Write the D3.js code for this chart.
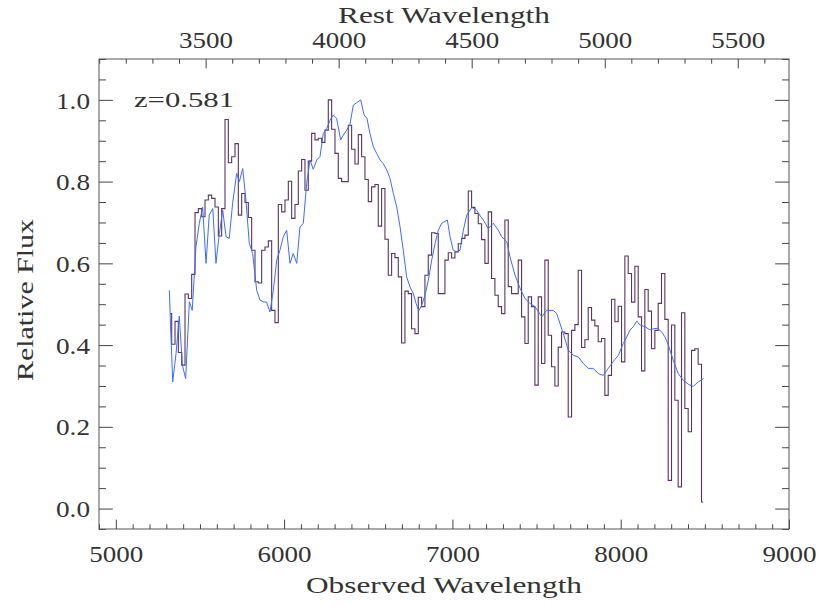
<!DOCTYPE html>
<html><head><meta charset="utf-8">
<script src="https://cdn.jsdelivr.net/npm/d3@7"></script>
<style>
body{margin:0;background:#fff;}
svg text{font-family:"Liberation Serif","DejaVu Serif",serif;fill:#333;}
</style></head><body>
<svg id="c" width="830" height="608"></svg>
<script>
// ---- data ----
const redshift = 0.581;
const fluxStart = 5322;   // first bin centre (observed Å)
const fluxStep = 19.8;    // bin width (Å)
const flux = [
0.477,0.402,0.458,0.382,0.351,0.525,0.514,0.573,0.724,0.734,
0.714,0.755,0.767,0.759,0.738,0.667,0.734,0.952,0.846,0.861,
0.893,0.718,0.771,0.749,0.712,0.632,0.555,0.552,0.632,0.640,
0.655,0.485,0.455,0.744,0.726,0.755,0.801,0.710,0.744,0.826,
0.854,0.779,0.850,0.918,0.902,0.906,0.896,0.926,1.000,0.928,
0.869,0.808,0.800,0.800,0.938,0.879,0.843,0.915,0.861,0.805,
0.751,0.787,0.793,0.691,0.783,0.659,0.571,0.624,0.614,0.567,
0.405,0.532,0.526,0.440,0.428,0.517,0.494,0.571,0.620,0.675,
0.673,0.526,0.526,0.608,0.626,0.613,0.628,0.648,0.661,0.669,
0.777,0.737,0.722,0.697,0.658,0.600,0.726,0.563,0.522,0.494,
0.477,0.706,0.543,0.526,0.526,0.608,0.469,0.404,0.518,0.494,
0.302,0.518,0.355,0.608,0.424,0.347,0.300,0.395,0.432,0.428,
0.224,0.436,0.450,0.583,0.394,0.413,0.492,0.461,0.447,0.408,
0.416,0.277,0.326,0.512,0.457,0.495,0.359,0.618,0.575,0.505,
0.593,0.469,0.337,0.536,0.483,0.391,0.436,0.502,0.575,0.463,
0.069,0.449,0.265,0.053,0.479,0.245,0.188,0.387,0.391,0.353,
0.016];
const modelWave = [
5318,5325,5338,5358,5377,5396,5415,5437,5454,5476,5496,5516,5536,5555,5576,5595,5615,5635,5655,5674,
5694,5718,5734,5754,5773,5793,5813,5837,5857,5876,5896,5916,5936,5956,5975,5995,6015,6035,6054,6075,
6094,6114,6134,6154,6173,6194,6213,6233,6253,6273,6292,6312,6336,6352,6372,6391,6411,6431,6455,6475,
6492,6510,6530,6550,6570,6589,6610,6629,6649,6669,6689,6708,6728,6748,6768,6784,6800,6818,6837,6857,
6877,6897,6916,6936,6970,6986,7005,7025,7045,7065,7085,7115,7144,7168,7184,7213,7243,7273,7293,7323,
7342,7372,7402,7431,7461,7491,7531,7560,7599,7620,7659,7689,7718,7748,7778,7807,7837,7867,7897,7926,
7956,7986,8015,8036,8055,8075,8095,8115,8144,8174,8194,8217,8244,8263,8283,8312,8342,8372,8402,8431,
8461,8491];
const modelFlux = [
0.534,0.450,0.310,0.380,0.471,0.350,0.318,0.506,0.485,0.640,0.698,0.738,0.600,0.718,0.734,0.600,0.673,0.730,0.665,0.661,
0.747,0.820,0.800,0.832,0.755,0.649,0.624,0.534,0.510,0.506,0.505,0.481,0.534,0.608,0.632,0.665,0.681,0.600,0.624,0.600,
0.689,0.698,0.796,0.853,0.830,0.853,0.861,0.918,0.930,0.950,0.963,0.955,0.902,0.914,0.926,0.940,0.987,0.993,1.000,0.963,
0.955,0.918,0.885,0.869,0.853,0.844,0.828,0.808,0.771,0.738,0.689,0.632,0.567,0.542,0.526,0.502,0.484,0.498,0.522,0.559,
0.608,0.649,0.681,0.698,0.706,0.665,0.632,0.628,0.632,0.681,0.718,0.737,0.730,0.714,0.706,0.685,0.698,0.681,0.665,0.653,
0.616,0.571,0.539,0.514,0.502,0.494,0.469,0.485,0.485,0.477,0.428,0.387,0.375,0.371,0.355,0.343,0.343,0.330,0.326,0.343,
0.360,0.375,0.404,0.420,0.437,0.445,0.459,0.449,0.445,0.437,0.440,0.441,0.432,0.420,0.400,0.363,0.330,0.314,0.304,0.299,
0.310,0.318];
const obsTickValues = [5000,6000,7000,8000,9000];
const restTickValues = [3500,4000,4500,5000,5500];
const fluxTickValues = [0.0,0.2,0.4,0.6,0.8,1.0];
const obsDomain = [4900,9000];
const fluxDomain = [-0.05,1.1];

// ---- layout ----
const L=99,R=789,T=59,B=529;
const svg = d3.select("#c");
const x = d3.scaleLinear().domain(obsDomain).range([L,R]);
const xr = d3.scaleLinear().domain(obsDomain.map(d=>d/(1+redshift))).range([L,R]);
const y = d3.scaleLinear().domain(fluxDomain).range([B,T]);
const FS = 24, axisCol = "#444", txtCol = "#333";

function styleTicks(g){ g.select(".domain").remove(); g.attr("color",axisCol); g.selectAll("line").attr("stroke-width",1); }

const obsMinor = d3.range(4900,9001,100).filter(v=>v%1000!==0);
const restMinor = d3.range(3100,5700,100).filter(v=>v%500!==0);
const fluxMinor = d3.range(-1,23).map(i=>+(i*0.05).toFixed(2)).filter(v=>Math.round(v*100)%20!==0);

// bottom
svg.append("g").attr("transform",`translate(0,${B})`)
  .call(d3.axisBottom(x).tickValues(obsMinor).tickSize(-4.7).tickFormat("")).call(styleTicks);
svg.append("g").attr("transform",`translate(0,${B})`)
  .call(d3.axisBottom(x).tickValues(obsTickValues).tickSize(-9.4).tickFormat(d3.format("d"))).call(styleTicks)
  .call(g=>g.selectAll("text").attr("y",33).attr("dy",null).attr("font-size",FS)
     .attr("textLength",54).attr("lengthAdjust","spacingAndGlyphs").attr("fill",txtCol));
// top (rest wavelength)
svg.append("g").attr("transform",`translate(0,${T})`)
  .call(d3.axisTop(xr).tickValues(restMinor).tickSize(-4.7).tickFormat("")).call(styleTicks);
svg.append("g").attr("transform",`translate(0,${T})`)
  .call(d3.axisTop(xr).tickValues(restTickValues).tickSize(-9.4).tickFormat(d3.format("d"))).call(styleTicks)
  .call(g=>g.selectAll("text").attr("y",-11).attr("dy",null).attr("font-size",FS)
     .attr("textLength",54).attr("lengthAdjust","spacingAndGlyphs").attr("fill",txtCol));
// left
svg.append("g").attr("transform",`translate(${L},0)`)
  .call(d3.axisLeft(y).tickValues(fluxMinor).tickSize(-6.9).tickFormat("")).call(styleTicks);
svg.append("g").attr("transform",`translate(${L},0)`)
  .call(d3.axisLeft(y).tickValues(fluxTickValues).tickSize(-13.8).tickFormat(d3.format(".1f"))).call(styleTicks)
  .call(g=>g.selectAll("text").attr("x",-9).attr("dy","0.34em").attr("font-size",FS)
     .attr("textLength",34).attr("lengthAdjust","spacingAndGlyphs").attr("fill",txtCol));
// right
svg.append("g").attr("transform",`translate(${R},0)`)
  .call(d3.axisRight(y).tickValues(fluxMinor).tickSize(-6.9).tickFormat("")).call(styleTicks);
svg.append("g").attr("transform",`translate(${R},0)`)
  .call(d3.axisRight(y).tickValues(fluxTickValues).tickSize(-13.8).tickFormat("")).call(styleTicks);

// frame
svg.append("rect").attr("x",L).attr("y",T).attr("width",R-L).attr("height",B-T)
  .attr("fill","none").attr("stroke","#555").attr("stroke-width",1);

// data
const stepLine = d3.line().x((d,i)=>x(fluxStart+fluxStep*i)).y(d=>y(d)).curve(d3.curveStep);
svg.append("path").datum(flux).attr("d",stepLine).attr("fill","none")
  .attr("stroke","#5a3560").attr("stroke-width",1.1);
const modelLine = d3.line().x((d,i)=>x(modelWave[i])).y(d=>y(d));
svg.append("path").datum(modelFlux).attr("d",modelLine).attr("fill","none")
  .attr("stroke","#3d6cff").attr("stroke-width",1);

// titles
svg.append("text").attr("x",(L+R)/2).attr("y",593).attr("text-anchor","middle").attr("font-size",FS)
  .attr("textLength",276).attr("lengthAdjust","spacingAndGlyphs").text("Observed Wavelength");
svg.append("text").attr("x",(L+R)/2).attr("y",23).attr("text-anchor","middle").attr("font-size",FS)
  .attr("textLength",212).attr("lengthAdjust","spacingAndGlyphs").text("Rest Wavelength");
svg.append("text").attr("transform",`translate(33,${(T+B)/2+6}) rotate(-90)`).attr("text-anchor","middle").attr("font-size",FS)
  .attr("textLength",162).attr("lengthAdjust","spacingAndGlyphs").text("Relative Flux");
svg.append("text").attr("x",134).attr("y",107).attr("font-size",22).attr("fill","#111")
  .attr("font-family","'DejaVu Serif',serif").attr("textLength",100).attr("lengthAdjust","spacingAndGlyphs")
  .text("z=" + redshift.toFixed(3));
</script>
</body></html>
